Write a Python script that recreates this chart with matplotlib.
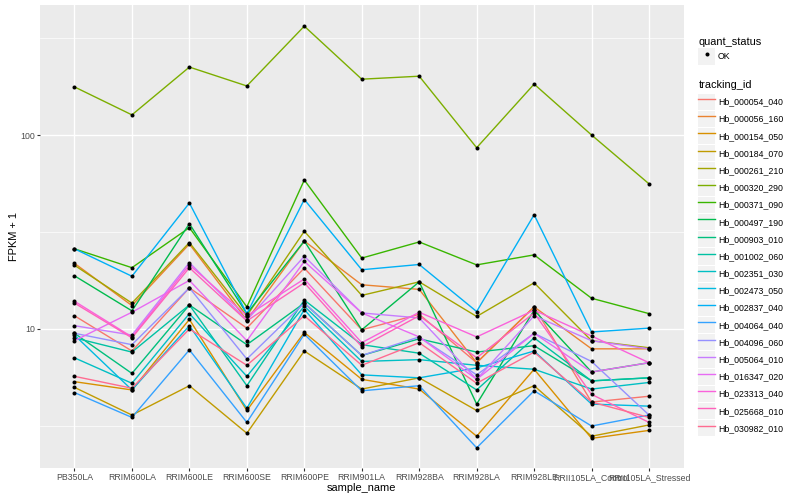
import matplotlib
matplotlib.use("Agg")
import matplotlib.pyplot as plt
from matplotlib.lines import Line2D
from matplotlib.patches import Rectangle
from matplotlib.legend_handler import HandlerLine2D

plt.rcParams['font.family'] = ['Liberation Sans', 'DejaVu Sans']

samples = ["PB350LA", "RRIM600LA", "RRIM600LE", "RRIM600SE", "RRIM600PE",
           "RRIM901LA", "RRIM928BA", "RRIM928LA", "RRIM928LE",
           "RRII105LA_Control", "RRII105LA_Stressed"]

tracking_ids = ["Hb_000054_040", "Hb_000056_160", "Hb_000154_050", "Hb_000184_070",
                "Hb_000261_210", "Hb_000320_290", "Hb_000371_090", "Hb_000497_190",
                "Hb_000903_010", "Hb_001002_060", "Hb_002351_030", "Hb_002473_050",
                "Hb_002837_040", "Hb_004064_040", "Hb_004096_060", "Hb_005064_010",
                "Hb_016347_020", "Hb_023313_040", "Hb_025668_010", "Hb_030982_010"]

# FPKM + 1 per sample (order of `samples`)
hb_000054_040 = [11.7, 7.7, 16.3, 10.1, 20.6, 9.9, 11.9, 6.7, 13.0, 4.2, 4.5]
hb_000056_160 = [21.8, 13.2, 27.4, 11.1, 28.4, 16.9, 16.0, 6.7, 13.0, 7.9, 7.9]
hb_000154_050 = [5.35, 4.85, 11.2, 3.8, 9.6, 5.5, 4.9, 2.8, 6.2, 2.73, 3.0]
hb_000184_070 = [5.0, 3.6, 5.1, 2.9, 7.7, 4.9, 5.6, 3.8, 5.1, 2.8, 3.2]
hb_000261_210 = [21.3, 13.6, 27.9, 11.7, 31.9, 14.9, 17.5, 11.6, 17.3, 8.7, 8.0]
hb_000320_290 = [177, 127, 224, 179, 364, 194, 201, 86, 183, 100, 56]
hb_000371_090 = [25.9, 20.7, 33.3, 13.0, 58.6, 23.2, 28.1, 21.4, 24.1, 14.4, 12.0]
hb_000497_190 = [18.8, 12.4, 34.9, 12.0, 28.4, 9.9, 17.5, 4.1, 12.5, 6.0, 6.7]
hb_000903_010 = [9.5, 5.9, 13.3, 8.3, 13.6, 7.3, 8.9, 7.6, 8.2, 5.4, 5.6]
hb_001002_060 = [9.0, 7.6, 13.3, 5.1, 14.1, 8.3, 7.5, 4.85, 9.0, 5.4, 5.6]
hb_002351_030 = [7.1, 5.25, 12.0, 5.7, 13.1, 6.8, 6.95, 6.5, 6.2, 4.9, 5.3]
hb_002473_050 = [9.3, 4.85, 10.4, 3.9, 12.6, 5.8, 5.6, 6.3, 7.7, 4.1, 4.0]
hb_002837_040 = [25.9, 18.7, 44.6, 12.0, 46.5, 20.2, 21.5, 12.3, 38.8, 9.65, 10.1]
hb_004064_040 = [4.7, 3.5, 7.8, 3.3, 9.4, 4.8, 5.1, 2.44, 4.8, 3.16, 3.6]
hb_004096_060 = [9.5, 8.3, 16.3, 7.0, 13.6, 7.3, 9.1, 5.8, 9.5, 6.8, 3.6]
hb_005064_010 = [10.4, 9.3, 22.0, 11.1, 23.7, 12.1, 11.4, 5.5, 11.7, 8.7, 7.9]
hb_016347_020 = [8.7, 12.2, 17.8, 8.7, 22.3, 12.1, 9.1, 5.5, 9.5, 6.0, 6.7]
hb_023313_040 = [13.9, 9.1, 21.4, 11.7, 18.1, 8.5, 12.2, 9.1, 12.5, 9.2, 6.7]
hb_025668_010 = [13.6, 9.0, 20.7, 11.0, 17.3, 8.1, 11.7, 7.1, 12.1, 4.6, 3.3]
hb_030982_010 = [5.7, 4.95, 10.0, 6.5, 11.7, 6.5, 8.5, 5.25, 7.6, 4.2, 3.5]

series = [hb_000054_040, hb_000056_160, hb_000154_050, hb_000184_070, hb_000261_210,
          hb_000320_290, hb_000371_090, hb_000497_190, hb_000903_010, hb_001002_060,
          hb_002351_030, hb_002473_050, hb_002837_040, hb_004064_040, hb_004096_060,
          hb_005064_010, hb_016347_020, hb_023313_040, hb_025668_010, hb_030982_010]

colors = ["#F8766D", "#EA8331", "#D89000", "#C09B00", "#A3A500", "#7CAE00", "#39B600",
          "#00BB4E", "#00BF7D", "#00C1A3", "#00BFC4", "#00BAE0", "#00B0F6", "#35A2FF",
          "#9590FF", "#C77CFF", "#E76BF3", "#FA62DB", "#FF62BC", "#FF6C91"]

W, H = 800, 500
fig = plt.figure(figsize=(8, 5), dpi=100)
ax = fig.add_axes([40 / W, 1 - 468 / H, (683.5 - 40) / W, (468 - 5) / H])
ax.set_facecolor('#EBEBEB')
for s in ax.spines.values():
    s.set_visible(False)

x = list(range(len(samples)))
for vals, c in zip(series, colors):
    ax.plot(x, vals, color=c, lw=1.0, zorder=2)
for vals in series:
    ax.plot(x, vals, ls='none', marker='o', ms=2.9, color='black', mec='black', mew=0, zorder=3)

ax.set_yscale('log')
ax.set_ylim(1.92, 468)
ax.set_xlim(-0.6, len(samples) - 1 + 0.6)
ax.set_yticks([10, 100])
ax.set_yticklabels(['10', '100'])
ax.set_yticks([10 ** 0.5, 10 ** 1.5, 10 ** 2.5], minor=True)
ax.yaxis.set_minor_formatter(plt.NullFormatter())
ax.set_xticks(x)
ax.set_xticklabels(samples)
ax.grid(which='major', color='white', lw=1.0)
ax.grid(which='minor', axis='y', color='white', lw=0.5)
ax.set_axisbelow(True)
ax.tick_params(which='major', length=2.0, width=0.8, color='#333333',
               labelsize=6.3, labelcolor='#4D4D4D', pad=1.5)
ax.tick_params(which='minor', length=0)
ax.set_xlabel('sample_name', fontsize=7.9, labelpad=1)
ax.set_ylabel('FPKM + 1', fontsize=7.9, labelpad=1)


class KeyHandler(HandlerLine2D):
    def create_artists(self, legend, orig_handle, xdescent, ydescent, width, height, fontsize, trans):
        bg = Rectangle((-xdescent, -ydescent), width, height, facecolor='#F2F2F2',
                       edgecolor='none', transform=trans)
        arts = super().create_artists(legend, orig_handle, xdescent, ydescent,
                                      width, height, fontsize, trans)
        return [bg] + list(arts)


common = dict(loc='upper left', frameon=False, fontsize=6.3, title_fontsize=7.9,
              alignment='left', handlelength=1.9, handleheight=2.46, handletextpad=0.35,
              borderpad=0, labelspacing=0.12, numpoints=1,
              handler_map={Line2D: KeyHandler()})

pt_handle = Line2D([], [], ls='none', marker='o', ms=2.9, color='black', mew=0)
leg1 = fig.legend([pt_handle], ['OK'], title='quant_status',
                  bbox_to_anchor=(694 / W, 1 - 33 / H), **common)
line_handles = [Line2D([], [], color=c, lw=1.0) for c in colors]
leg2 = fig.legend(line_handles, tracking_ids, title='tracking_id',
                  bbox_to_anchor=(694 / W, 1 - 76 / H), **common)
leg2._legend_box.sep = 2.4

fig.savefig('out.png', dpi=100)
